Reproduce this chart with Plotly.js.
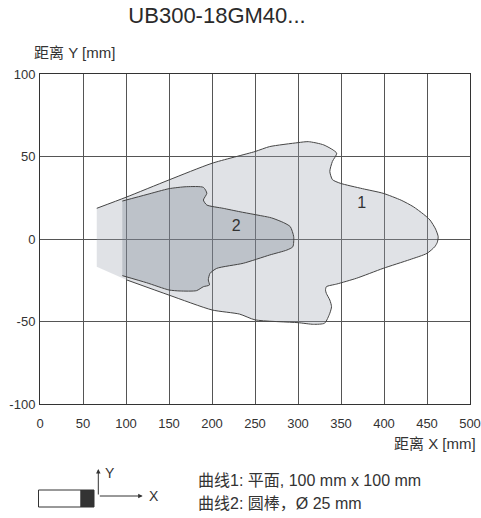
<!DOCTYPE html>
<html>
<head>
<meta charset="utf-8">
<script src="https://cdn.plot.ly/plotly-3.0.1.min.js"></script>
<style>html,body{margin:0;padding:0;background:#fff}#chart{width:481px;height:518px}</style>
</head>
<body>
<div id="chart"></div>
<script>
// ---- Data ----
const curve1X = [66, 100, 150, 200, 250, 267, 300, 312, 330, 345, 340, 337, 340, 349, 375, 399, 420, 434, 446, 453.5, 460, 463, 462, 459, 450, 430, 399, 368, 345, 333, 332, 333, 337, 339, 337, 331, 318, 300, 250, 232, 200, 150, 100.8, 66];
const curve1Y = [18.6, 25.3, 35.8, 45.9, 53, 56, 58.4, 59, 57, 52, 47, 41, 36, 33.8, 30.5, 27.7, 23.5, 19.6, 15, 11.5, 6, 1.4, -2, -4.7, -8.7, -12.5, -17.8, -23.8, -27.3, -28.9, -31, -33, -37, -41, -45, -51, -51.7, -50.7, -49, -45.5, -43, -34, -24.8, -16.8];
const curve2X = [95.7, 124.5, 150, 170.5, 190, 194, 190, 194, 213, 232.6, 267, 271, 283, 291, 295, 294, 287, 267, 236.4, 205.5, 197.7, 195.7, 197, 190, 182, 163, 150, 124, 95.7];
const curve2Y = [23, 27, 30.5, 31.7, 31.3, 27.7, 23.6, 20.6, 18.6, 16.5, 13.1, 12.5, 10, 7.5, 1.4, -4.7, -6.7, -9.7, -14.7, -17.8, -20.8, -24.8, -27.9, -28.9, -31.3, -31.5, -30.9, -26.5, -22.2];
const curveLabels = ["1", "2"];
const curveLabelX = [374, 228];
const curveLabelY = [21, 7.3];
const xTicks = [0, 50, 100, 150, 200, 250, 300, 350, 400, 450, 500];
const yTicks = [-100, -50, 0, 50, 100];
const titleText = "UB300-18GM40...";
const xTitle = "距离 X [mm]";
const yTitle = "距离 Y [mm]";
const noteLines = ["曲线1: 平面, 100 mm x 100 mm", "曲线2: 圆棒，Ø 25 mm"];

// ---- Layout helpers (pixel -> paper) ----
const W = 481, H = 518, ML = 40, MR = 11, MT = 74, MB = 114;
const PW = W - ML - MR, PH = H - MT - MB;
const px = x => (x - ML) / PW;
const py = y => (H - MB - y) / PH;
const FONT = "Liberation Sans, Arial, Noto Sans CJK SC, sans-serif";
const TXT = "#333";

const traces = [
  {x: curve1X, y: curve1Y, type: "scatter", mode: "lines", fill: "toself",
   fillcolor: "rgba(160,165,178,0.32)", line: {width: 0, color: "rgba(0,0,0,0)"}, hoverinfo: "skip"},
  {x: curve1X.slice(0, -1), y: curve1Y.slice(0, -1), type: "scatter", mode: "lines",
   line: {color: "#444", width: 1, shape: "spline", smoothing: 0.6}, hoverinfo: "skip"},
  {x: curve2X, y: curve2Y, type: "scatter", mode: "lines", fill: "toself",
   fillcolor: "rgba(110,120,135,0.3)", line: {width: 0, color: "rgba(0,0,0,0)"}, hoverinfo: "skip"},
  {x: curve2X, y: curve2Y, type: "scatter", mode: "lines",
   line: {color: "#444", width: 1, shape: "spline", smoothing: 0.6}, hoverinfo: "skip"},
  {x: curveLabelX, y: curveLabelY, text: curveLabels, type: "scatter", mode: "text",
   textfont: {family: FONT, size: 16, color: "#333"}, hoverinfo: "skip"}
];

const annotations = [
  {xref: "paper", yref: "paper", x: px(32), y: py(52), xanchor: "left", yanchor: "middle",
   text: yTitle, showarrow: false, font: {family: FONT, size: 15, color: TXT}},
  {xref: "paper", yref: "paper", x: px(478), y: py(443), xanchor: "right", yanchor: "middle",
   text: xTitle, showarrow: false, font: {family: FONT, size: 15, color: TXT}},
  {xref: "paper", yref: "paper", x: px(196), y: py(480), xanchor: "left", yanchor: "middle",
   text: noteLines[0], showarrow: false, font: {family: FONT, size: 16, color: TXT}},
  {xref: "paper", yref: "paper", x: px(196), y: py(503), xanchor: "left", yanchor: "middle",
   text: noteLines[1], showarrow: false, font: {family: FONT, size: 16, color: TXT}},
  {xref: "paper", yref: "paper", x: px(98.3), y: py(469), ax: 0, ay: 27, axref: "pixel", ayref: "pixel",
   text: "", showarrow: true, arrowhead: 2, arrowsize: 0.9, arrowwidth: 1, arrowcolor: "#333"},
  {xref: "paper", yref: "paper", x: px(142.7), y: py(496), ax: -44.4, ay: 0, axref: "pixel", ayref: "pixel",
   text: "", showarrow: true, arrowhead: 2, arrowsize: 0.9, arrowwidth: 1, arrowcolor: "#333"},
  {xref: "paper", yref: "paper", x: px(110), y: py(473), xanchor: "center", yanchor: "middle",
   text: "Y", showarrow: false, font: {family: FONT, size: 14, color: TXT}},
  {xref: "paper", yref: "paper", x: px(154), y: py(496), xanchor: "center", yanchor: "middle",
   text: "X", showarrow: false, font: {family: FONT, size: 14, color: TXT}}
];

const shapes = [
  {type: "rect", xref: "paper", yref: "paper", x0: px(38.5), x1: px(81), y0: py(507), y1: py(490),
   line: {color: "#333", width: 1}, fillcolor: "#fff"},
  {type: "rect", xref: "paper", yref: "paper", x0: px(81), x1: px(94), y0: py(507), y1: py(490),
   line: {color: "#333", width: 1}, fillcolor: "#333"}
];

const layout = {
  width: W, height: H,
  margin: {l: ML, r: MR, t: MT, b: MB, pad: 0},
  paper_bgcolor: "#fff", plot_bgcolor: "#fff",
  showlegend: false,
  font: {family: FONT, size: 13, color: TXT},
  title: {text: titleText, x: px(217), xref: "paper", xanchor: "center", y: 1 - 15 / H, yanchor: "middle",
          font: {family: FONT, size: 22, color: "#2a2a2a"}},
  xaxis: {range: [0, 500], tickvals: xTicks, ticktext: xTicks.map(String), showgrid: true, gridcolor: "#555", gridwidth: 1,
          zeroline: false, showline: true, mirror: true, linecolor: "#333", linewidth: 1, ticks: "",
          ticklabelstandoff: 7,
          tickfont: {family: FONT, size: 13, color: TXT}, fixedrange: true},
  yaxis: {range: [-100, 100], tickvals: yTicks, ticktext: yTicks.map(String), showgrid: true, gridcolor: "#555", gridwidth: 1,
          zeroline: false, showline: true, mirror: true, linecolor: "#333", linewidth: 1, ticks: "",
          ticklabelstandoff: 1,
          tickfont: {family: FONT, size: 13, color: TXT}, fixedrange: true},
  annotations: annotations,
  shapes: shapes
};

Plotly.newPlot("chart", traces, layout, {staticPlot: true, displayModeBar: false});
</script>
</body>
</html>
